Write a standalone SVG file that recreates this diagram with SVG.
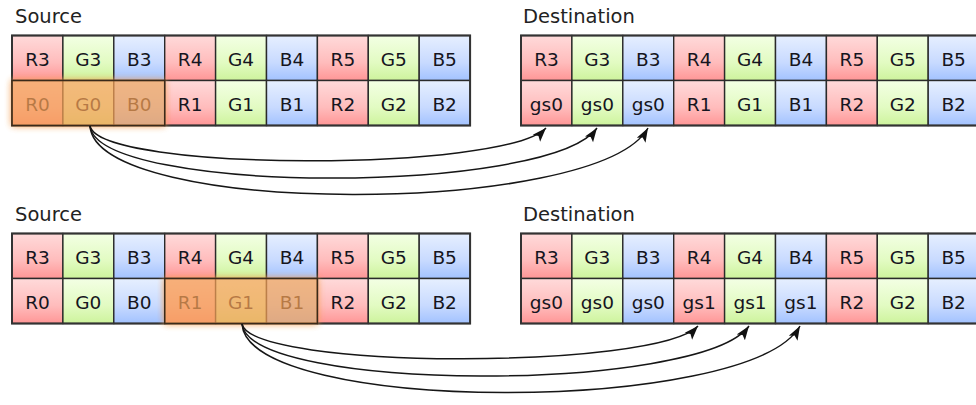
<svg xmlns="http://www.w3.org/2000/svg" width="976" height="405" viewBox="0 0 976 405">
<defs>
<linearGradient id="gr" x1="0" y1="0" x2="0" y2="1"><stop offset="0" stop-color="#ffdada"/><stop offset="0.6" stop-color="#ffbcbc"/><stop offset="1" stop-color="#ff9696"/></linearGradient>
<linearGradient id="gg" x1="0" y1="0" x2="0" y2="1"><stop offset="0" stop-color="#f3ffe4"/><stop offset="0.6" stop-color="#e2fbc2"/><stop offset="1" stop-color="#cdf39c"/></linearGradient>
<linearGradient id="gb" x1="0" y1="0" x2="0" y2="1"><stop offset="0" stop-color="#e6efff"/><stop offset="0.6" stop-color="#c8daff"/><stop offset="1" stop-color="#a2c2ff"/></linearGradient>
<filter id="glow" x="-20%" y="-60%" width="140%" height="220%"><feGaussianBlur in="SourceGraphic" stdDeviation="3.5" result="b"/><feMerge><feMergeNode in="b"/><feMergeNode in="b"/><feMergeNode in="SourceGraphic"/></feMerge></filter>
<marker id="ah" viewBox="0 0 14 11" refX="14" refY="5.5" markerWidth="14" markerHeight="11" markerUnits="userSpaceOnUse" orient="auto"><path d="M0,0.5 L14,5.5 L0,10.5 L3,5.5 z" fill="#111"/></marker>
</defs>
<style>
.r{fill:url(#gr)} .g{fill:url(#gg)} .b{fill:url(#gb)}
rect.c{stroke:#2a2a2a;stroke-width:1.4}
.outer{fill:none;stroke:#333;stroke-width:2}
.t{font-family:"DejaVu Sans",Verdana,sans-serif;font-size:18.5px;fill:#151520;text-anchor:middle}
.lbl{font-family:"DejaVu Sans",Verdana,sans-serif;font-size:19.5px;fill:#222}
.hl{fill:#f5a055}
.hlb{fill:none;stroke:#3a2a1a;stroke-width:1.5}
.con{fill:none;stroke:#161616;stroke-width:1.5;marker-end:url(#ah)}
</style>
<rect width="976" height="405" fill="#fff"/>

<text class="lbl" x="15" y="23">Source</text>
<text class="lbl" x="523" y="23">Destination</text>
<text class="lbl" x="15" y="221">Source</text>
<text class="lbl" x="523" y="221">Destination</text>

<!-- Top source -->
<g id="src1">
<rect class="c r" x="12" y="35.5" width="50.9" height="45"/><text class="t" x="37.45" y="66">R3</text>
<rect class="c g" x="62.9" y="35.5" width="50.9" height="45"/><text class="t" x="88.35" y="66">G3</text>
<rect class="c b" x="113.8" y="35.5" width="50.9" height="45"/><text class="t" x="139.25" y="66">B3</text>
<rect class="c r" x="164.7" y="35.5" width="50.9" height="45"/><text class="t" x="190.15" y="66">R4</text>
<rect class="c g" x="215.6" y="35.5" width="50.9" height="45"/><text class="t" x="241.05" y="66">G4</text>
<rect class="c b" x="266.5" y="35.5" width="50.9" height="45"/><text class="t" x="291.95" y="66">B4</text>
<rect class="c r" x="317.4" y="35.5" width="50.9" height="45"/><text class="t" x="342.85" y="66">R5</text>
<rect class="c g" x="368.3" y="35.5" width="50.9" height="45"/><text class="t" x="393.75" y="66">G5</text>
<rect class="c b" x="419.2" y="35.5" width="50.9" height="45"/><text class="t" x="444.65" y="66">B5</text>
<rect class="c r" x="12" y="80.5" width="50.9" height="45"/><text class="t" x="37.45" y="111">R0</text>
<rect class="c g" x="62.9" y="80.5" width="50.9" height="45"/><text class="t" x="88.35" y="111">G0</text>
<rect class="c b" x="113.8" y="80.5" width="50.9" height="45"/><text class="t" x="139.25" y="111">B0</text>
<rect class="c r" x="164.7" y="80.5" width="50.9" height="45"/><text class="t" x="190.15" y="111">R1</text>
<rect class="c g" x="215.6" y="80.5" width="50.9" height="45"/><text class="t" x="241.05" y="111">G1</text>
<rect class="c b" x="266.5" y="80.5" width="50.9" height="45"/><text class="t" x="291.95" y="111">B1</text>
<rect class="c r" x="317.4" y="80.5" width="50.9" height="45"/><text class="t" x="342.85" y="111">R2</text>
<rect class="c g" x="368.3" y="80.5" width="50.9" height="45"/><text class="t" x="393.75" y="111">G2</text>
<rect class="c b" x="419.2" y="80.5" width="50.9" height="45"/><text class="t" x="444.65" y="111">B2</text>
<rect class="outer" x="12" y="35.5" width="458.1" height="90"/>
<g opacity="0.72"><rect class="hl" x="12" y="80.5" width="152.7" height="45" filter="url(#glow)"/></g>
<rect class="hlb" x="12" y="80.5" width="152.7" height="45"/>
</g>

<!-- Top destination -->
<g id="dst1">
<rect class="c r" x="521" y="35.5" width="50.9" height="45"/><text class="t" x="546.45" y="66">R3</text>
<rect class="c g" x="571.9" y="35.5" width="50.9" height="45"/><text class="t" x="597.35" y="66">G3</text>
<rect class="c b" x="622.8" y="35.5" width="50.9" height="45"/><text class="t" x="648.25" y="66">B3</text>
<rect class="c r" x="673.7" y="35.5" width="50.9" height="45"/><text class="t" x="699.15" y="66">R4</text>
<rect class="c g" x="724.6" y="35.5" width="50.9" height="45"/><text class="t" x="750.05" y="66">G4</text>
<rect class="c b" x="775.5" y="35.5" width="50.9" height="45"/><text class="t" x="800.95" y="66">B4</text>
<rect class="c r" x="826.4" y="35.5" width="50.9" height="45"/><text class="t" x="851.85" y="66">R5</text>
<rect class="c g" x="877.3" y="35.5" width="50.9" height="45"/><text class="t" x="902.75" y="66">G5</text>
<rect class="c b" x="928.2" y="35.5" width="50.9" height="45"/><text class="t" x="953.65" y="66">B5</text>
<rect class="c r" x="521" y="80.5" width="50.9" height="45"/><text class="t" x="546.45" y="111">gs0</text>
<rect class="c g" x="571.9" y="80.5" width="50.9" height="45"/><text class="t" x="597.35" y="111">gs0</text>
<rect class="c b" x="622.8" y="80.5" width="50.9" height="45"/><text class="t" x="648.25" y="111">gs0</text>
<rect class="c r" x="673.7" y="80.5" width="50.9" height="45"/><text class="t" x="699.15" y="111">R1</text>
<rect class="c g" x="724.6" y="80.5" width="50.9" height="45"/><text class="t" x="750.05" y="111">G1</text>
<rect class="c b" x="775.5" y="80.5" width="50.9" height="45"/><text class="t" x="800.95" y="111">B1</text>
<rect class="c r" x="826.4" y="80.5" width="50.9" height="45"/><text class="t" x="851.85" y="111">R2</text>
<rect class="c g" x="877.3" y="80.5" width="50.9" height="45"/><text class="t" x="902.75" y="111">G2</text>
<rect class="c b" x="928.2" y="80.5" width="50.9" height="45"/><text class="t" x="953.65" y="111">B2</text>
<rect class="outer" x="521" y="35.5" width="458.1" height="90"/>
</g>

<!-- Bottom source -->
<g id="src2">
<rect class="c r" x="12" y="233.5" width="50.9" height="45"/><text class="t" x="37.45" y="264">R3</text>
<rect class="c g" x="62.9" y="233.5" width="50.9" height="45"/><text class="t" x="88.35" y="264">G3</text>
<rect class="c b" x="113.8" y="233.5" width="50.9" height="45"/><text class="t" x="139.25" y="264">B3</text>
<rect class="c r" x="164.7" y="233.5" width="50.9" height="45"/><text class="t" x="190.15" y="264">R4</text>
<rect class="c g" x="215.6" y="233.5" width="50.9" height="45"/><text class="t" x="241.05" y="264">G4</text>
<rect class="c b" x="266.5" y="233.5" width="50.9" height="45"/><text class="t" x="291.95" y="264">B4</text>
<rect class="c r" x="317.4" y="233.5" width="50.9" height="45"/><text class="t" x="342.85" y="264">R5</text>
<rect class="c g" x="368.3" y="233.5" width="50.9" height="45"/><text class="t" x="393.75" y="264">G5</text>
<rect class="c b" x="419.2" y="233.5" width="50.9" height="45"/><text class="t" x="444.65" y="264">B5</text>
<rect class="c r" x="12" y="278.5" width="50.9" height="45"/><text class="t" x="37.45" y="309">R0</text>
<rect class="c g" x="62.9" y="278.5" width="50.9" height="45"/><text class="t" x="88.35" y="309">G0</text>
<rect class="c b" x="113.8" y="278.5" width="50.9" height="45"/><text class="t" x="139.25" y="309">B0</text>
<rect class="c r" x="164.7" y="278.5" width="50.9" height="45"/><text class="t" x="190.15" y="309">R1</text>
<rect class="c g" x="215.6" y="278.5" width="50.9" height="45"/><text class="t" x="241.05" y="309">G1</text>
<rect class="c b" x="266.5" y="278.5" width="50.9" height="45"/><text class="t" x="291.95" y="309">B1</text>
<rect class="c r" x="317.4" y="278.5" width="50.9" height="45"/><text class="t" x="342.85" y="309">R2</text>
<rect class="c g" x="368.3" y="278.5" width="50.9" height="45"/><text class="t" x="393.75" y="309">G2</text>
<rect class="c b" x="419.2" y="278.5" width="50.9" height="45"/><text class="t" x="444.65" y="309">B2</text>
<rect class="outer" x="12" y="233.5" width="458.1" height="90"/>
<g opacity="0.72"><rect class="hl" x="164.7" y="278.5" width="152.7" height="45" filter="url(#glow)"/></g>
<rect class="hlb" x="164.7" y="278.5" width="152.7" height="45"/>
</g>

<!-- Bottom destination -->
<g id="dst2">
<rect class="c r" x="521" y="233.5" width="50.9" height="45"/><text class="t" x="546.45" y="264">R3</text>
<rect class="c g" x="571.9" y="233.5" width="50.9" height="45"/><text class="t" x="597.35" y="264">G3</text>
<rect class="c b" x="622.8" y="233.5" width="50.9" height="45"/><text class="t" x="648.25" y="264">B3</text>
<rect class="c r" x="673.7" y="233.5" width="50.9" height="45"/><text class="t" x="699.15" y="264">R4</text>
<rect class="c g" x="724.6" y="233.5" width="50.9" height="45"/><text class="t" x="750.05" y="264">G4</text>
<rect class="c b" x="775.5" y="233.5" width="50.9" height="45"/><text class="t" x="800.95" y="264">B4</text>
<rect class="c r" x="826.4" y="233.5" width="50.9" height="45"/><text class="t" x="851.85" y="264">R5</text>
<rect class="c g" x="877.3" y="233.5" width="50.9" height="45"/><text class="t" x="902.75" y="264">G5</text>
<rect class="c b" x="928.2" y="233.5" width="50.9" height="45"/><text class="t" x="953.65" y="264">B5</text>
<rect class="c r" x="521" y="278.5" width="50.9" height="45"/><text class="t" x="546.45" y="309">gs0</text>
<rect class="c g" x="571.9" y="278.5" width="50.9" height="45"/><text class="t" x="597.35" y="309">gs0</text>
<rect class="c b" x="622.8" y="278.5" width="50.9" height="45"/><text class="t" x="648.25" y="309">gs0</text>
<rect class="c r" x="673.7" y="278.5" width="50.9" height="45"/><text class="t" x="699.15" y="309">gs1</text>
<rect class="c g" x="724.6" y="278.5" width="50.9" height="45"/><text class="t" x="750.05" y="309">gs1</text>
<rect class="c b" x="775.5" y="278.5" width="50.9" height="45"/><text class="t" x="800.95" y="309">gs1</text>
<rect class="c r" x="826.4" y="278.5" width="50.9" height="45"/><text class="t" x="851.85" y="309">R2</text>
<rect class="c g" x="877.3" y="278.5" width="50.9" height="45"/><text class="t" x="902.75" y="309">G2</text>
<rect class="c b" x="928.2" y="278.5" width="50.9" height="45"/><text class="t" x="953.65" y="309">B2</text>
<rect class="outer" x="521" y="233.5" width="458.1" height="90"/>
</g>

<g id="connectors">
<path class="con" d="M90,126 C100,172 505,172 546,128"/>
<path class="con" d="M90,126 C98,195 550,195 597,128"/>
<path class="con" d="M90,126 C96,217 598,217 648,128"/>
<path class="con" d="M242,324 C252,370 657,370 698,326"/>
<path class="con" d="M242,324 C250,393 701,393 749,326"/>
<path class="con" d="M242,324 C248,415 750,415 800,326"/>
</g>
</svg>
